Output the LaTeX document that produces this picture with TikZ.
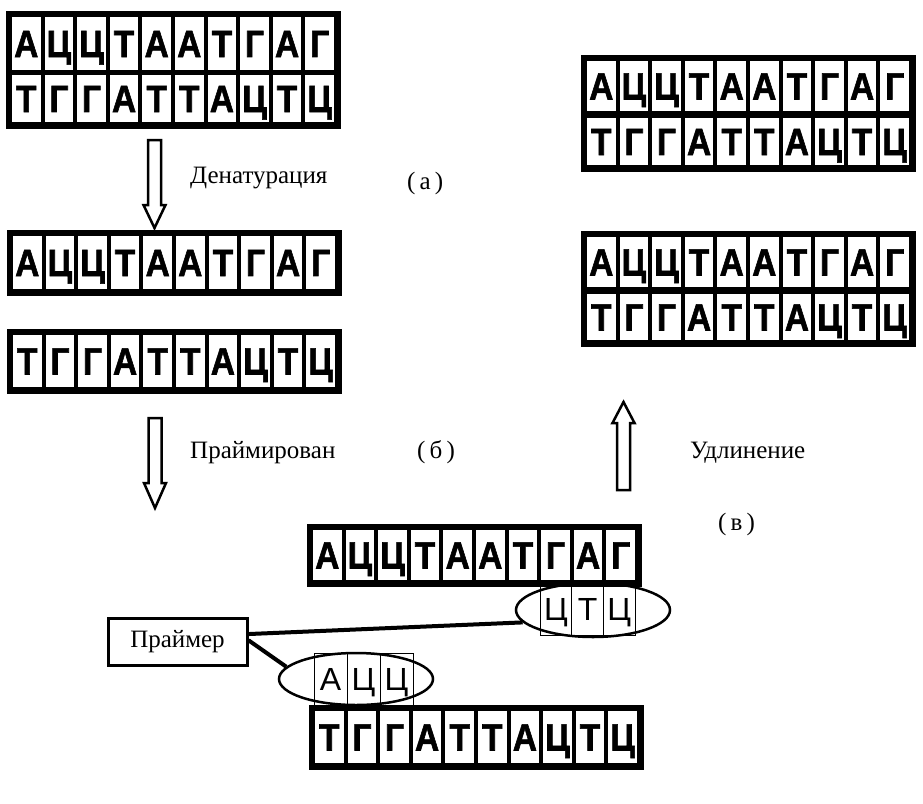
\documentclass[tikz,border=0pt]{standalone}
\usepackage{fontspec}
\setmainfont{Liberation Serif}
\newfontfamily\basefont{Liberation Sans}
\newfontfamily\boldbasefont{Liberation Sans Bold}[FakeBold=1.5, FakeStretch=0.88]
\usetikzlibrary{shapes.geometric}

% width of one nucleotide cell
\def\cellw{32.6}

\tikzset{
  cell/.style={draw, line width=4pt, fill=white, minimum width=\cellw pt,
    inner sep=0pt, text height=27pt, text depth=0pt,
    font=\boldbasefont\fontsize{38}{38}\selectfont},
  frame/.style={draw, line width=5pt},
  primercell/.style={draw, line width=0.8pt, inner sep=0pt,
    text height=23pt, text depth=0pt,
    font=\basefont\fontsize{32}{32}\selectfont},
  steplabel/.style={font=\fontsize{25}{25}\selectfont, inner sep=0pt, anchor=base west},
  primerellipse/.style={ellipse, draw, line width=2.5pt, inner sep=0pt},
  blockarrow/.style={draw, line width=2.5pt, fill=white, line join=miter},
  link/.style={draw, line width=4pt},
  tagbox/.style={draw, line width=3pt, inner sep=0pt, minimum width=139pt,
    minimum height=47pt, font=\fontsize{25}{25}\selectfont},
}

% one row of bold nucleotide cells: name, left x, top y, row height, letters
\newcommand\baserow[5]{%
  \foreach \b [count=\i] in {#5}{%
    \node[cell, minimum height=#4 pt] (#1-\i) at ({#2+(\i-0.5)*\cellw}, {#3+#4/2}) {\b};
  }}

% primer cells: name, left x, top y, height, cell width, letters
\newcommand\primerrow[6]{%
  \foreach \b [count=\i] in {#6}{%
    \node[primercell, minimum height=#4 pt, minimum width=#5 pt]
      (#1-\i) at ({#2+(\i-0.5)*#5}, {#3+#4/2}) {\b};
  }}

\begin{document}
\begin{tikzpicture}[x=1pt, y=-1pt]
  \path[use as bounding box, fill=white] (0,0) rectangle (923,803);

  % double strand, top left
  \baserow{tlu}{10}{15}{57}{А,Ц,Ц,Т,А,А,Т,Г,А,Г}
  \baserow{tll}{10}{73}{51}{Т,Г,Г,А,Т,Т,А,Ц,Т,Ц}
  \draw[frame] (tlu-1.north west) rectangle (tll-10.south east);

  % denatured single strands
  \baserow{mla}{11}{234}{57}{А,Ц,Ц,Т,А,А,Т,Г,А,Г}
  \draw[frame] (mla-1.north west) rectangle (mla-10.south east);
  \baserow{mlb}{11}{333}{56}{Т,Г,Г,А,Т,Т,А,Ц,Т,Ц}
  \draw[frame] (mlb-1.north west) rectangle (mlb-10.south east);

  % double strands, right
  \baserow{tru}{585}{59}{54}{А,Ц,Ц,Т,А,А,Т,Г,А,Г}
  \baserow{trl}{585}{116}{51}{Т,Г,Г,А,Т,Т,А,Ц,Т,Ц}
  \draw[frame] (tru-1.north west) rectangle (trl-10.south east);

  \baserow{mru}{585}{235}{54}{А,Ц,Ц,Т,А,А,Т,Г,А,Г}
  \baserow{mrl}{585}{292}{50}{Т,Г,Г,А,Т,Т,А,Ц,Т,Ц}
  \draw[frame] (mru-1.north west) rectangle (mrl-10.south east);

  % annealing stage
  \baserow{bt}{311}{528}{54}{А,Ц,Ц,Т,А,А,Т,Г,А,Г}
  \draw[frame] (bt-1.north west) rectangle (bt-10.south east);
  \baserow{bb}{313}{709}{56}{Т,Г,Г,А,Т,Т,А,Ц,Т,Ц}
  \draw[frame] (bb-1.north west) rectangle (bb-10.south east);

  % primers
  \primerrow{pu}{540}{582}{53}{31.7}{Ц,Т,Ц}
  \primerrow{pl}{314}{653}{52}{33}{А,Ц,Ц}
  \node[primerellipse, minimum width=154pt, minimum height=54pt] (p1) at (593,610) {};
  \node[primerellipse, minimum width=154pt, minimum height=52pt] (p2) at (356,679) {};

  \node[tagbox] (tag) at (177.5,641.5) {Праймер};
  \draw[link] (tag.6) -- (p1.190);
  \draw[link] (tag.1) -- (p2.170);

  % process arrows
  \coordinate (a1) at (154.5,140);
  \draw[blockarrow] (a1) ++(-6.5,0) -- ++(0,65) -- ++(-4.5,0) -- ++(11,23)
    -- ++(11,-23) -- ++(-4.5,0) -- ++(0,-65) -- cycle;
  \coordinate (a2) at (155,418);
  \draw[blockarrow] (a2) ++(-6.5,0) -- ++(0,65) -- ++(-4.5,0) -- ++(11,25)
    -- ++(11,-25) -- ++(-4.5,0) -- ++(0,-65) -- cycle;
  \coordinate (a3) at (623.5,490);
  \draw[blockarrow] (a3) ++(-6.5,0) -- ++(0,-67) -- ++(-4.5,0) -- ++(11,-21)
    -- ++(11,21) -- ++(-4.5,0) -- ++(0,67) -- cycle;

  % step labels
  \node[steplabel] (den) at (190,183) {Денатурация};
  \node[steplabel] (sa) at (407,189) {(\,а\,)};
  \node[steplabel] (pri) at (190,458) {Праймирован};
  \node[steplabel] (sb) at (417,458) {(\,б\,)};
  \node[steplabel] (ext) at (690,458) {Удлинение};
  \node[steplabel] (sc) at (718,530) {(\,в\,)};
\end{tikzpicture}
\end{document}
